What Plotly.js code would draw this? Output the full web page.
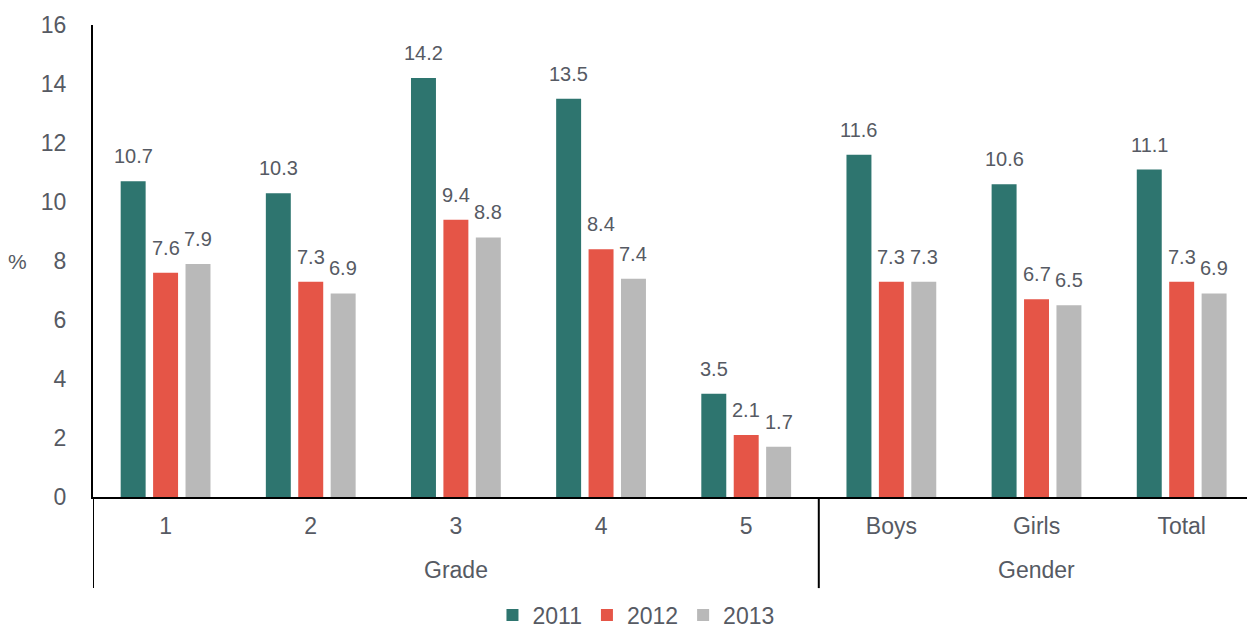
<!DOCTYPE html>
<html><head><meta charset="utf-8">
<script src="https://cdn.plot.ly/plotly-3.0.1.min.js"></script>
<style>html,body{margin:0;padding:0;background:#fff;}#chart{width:1247px;height:633px;}</style>
</head><body><div id="chart"></div>
<script>
const groups = ["Grade","Grade","Grade","Grade","Grade","Gender","Gender","Gender"];
const categories = ["1","2","3","4","5","Boys","Girls","Total"];
const years = ["2011","2012","2013"];
const v2011 = [10.7,10.3,14.2,13.5,3.5,11.6,10.6,11.1];
const v2012 = [7.6,7.3,9.4,8.4,2.1,7.3,6.7,7.3];
const v2013 = [7.9,6.9,8.8,7.4,1.7,7.3,6.5,6.9];
const colors = ["#2E756F","#E55547","#B9B9B9"];
const series = [v2011,v2012,v2013];
const textColor = "#565a63";
const FONT = "Liberation Sans, Arial, sans-serif";
const bargap = 0.33;
const xRange = [-0.5, 7.45];

const traces = series.map((vals,k)=>({
  type:'bar', name:years[k], x:categories, y:vals,
  marker:{color:colors[k]}, hoverinfo:'skip'
}));
traces.push({type:'scatter',x:[0],y:[0],xaxis:'x2',mode:'markers',marker:{opacity:0},showlegend:false,hoverinfo:'skip'});

const slot = (1-bargap)/3;
const annotations = [];
series.forEach((vals,k)=>{
  vals.forEach((v,i)=>{
    annotations.push({xref:'x2',yref:'y',x:i+(k-1)*slot,y:v,text:v.toFixed(1),
      showarrow:false,yanchor:'middle',yshift:25,font:{size:20,color:textColor,family:FONT}});
  });
});
const shapes = [];
const uniq = [...new Set(groups)];
uniq.forEach(g=>{
  const idx = groups.map((gg,i)=>gg===g?i:-1).filter(i=>i>=0);
  const mid = (idx[0]+idx[idx.length-1])/2;
  annotations.push({xref:'x2',yref:'paper',x:mid,y:-0.155,text:g,showarrow:false,
    xanchor:'center',yanchor:'middle',font:{size:23,color:textColor,family:FONT}});
  shapes.push({type:'line',xref:'x2',yref:'paper',x0:idx[0]-0.5,x1:idx[0]-0.5,y0:0,y1:-0.193,
    line:{color:'#000',width:2}});
});
annotations.push({xref:'paper',yref:'paper',x:-0.065,y:0.5,text:'%',showarrow:false,
  xanchor:'center',yanchor:'middle',font:{size:21,color:textColor,family:FONT}});

const layout = {
  width:1247,height:633,
  margin:{l:93,r:0,t:25,b:136,autoexpand:false},
  paper_bgcolor:'#fff',plot_bgcolor:'#fff',
  font:{family:FONT,color:textColor,size:23},
  barmode:'group',bargap:bargap,bargroupgap:0.23,
  showlegend:true,
  legend:{orientation:'h',xref:'container',x:0.51,xanchor:'center',y:-0.25,yanchor:'middle',
    font:{size:23,color:textColor,family:FONT},itemwidth:30,traceorder:'normal'},
  xaxis:{type:'category',range:xRange,showline:true,linecolor:'#000',linewidth:2,automargin:false,
    ticks:'',ticklabelstandoff:7,
    tickfont:{size:23,color:textColor,family:FONT},showgrid:false,zeroline:false},
  xaxis2:{overlaying:'x',range:xRange,visible:false,fixedrange:true},
  yaxis:{range:[0,16],dtick:2,showline:true,linecolor:'#000',linewidth:2,showgrid:false,automargin:false,
    zeroline:false,ticks:'',ticklabelstandoff:20,tickfont:{size:23,color:textColor,family:FONT}},
  annotations:annotations,shapes:shapes
};
Plotly.newPlot('chart',traces,layout,{displayModeBar:false,staticPlot:true});
</script></body></html>
